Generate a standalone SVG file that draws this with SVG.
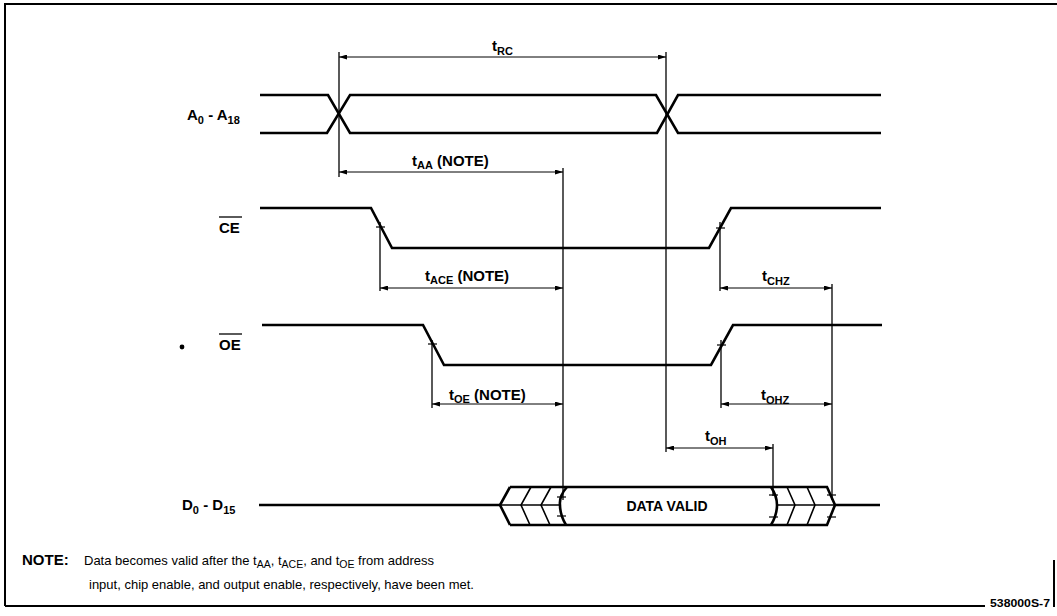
<svg xmlns="http://www.w3.org/2000/svg" width="1057" height="616" viewBox="0 0 1057 616">
<style>
.sig{fill:none;stroke:#000;stroke-width:2.6;stroke-linejoin:miter}
.hat{fill:none;stroke:#000;stroke-width:1.6}
.ext{fill:none;stroke:#000;stroke-width:1.3}
.dim{fill:none;stroke:#000;stroke-width:1;marker-start:url(#ah);marker-end:url(#ah)}
.tk{stroke:#000;stroke-width:1.2}
.frame{fill:none;stroke:#000;stroke-width:2}
text{font-family:"Liberation Sans",Arial,Helvetica,sans-serif;fill:#000}
.lbl{font-size:15px;font-weight:bold}
.sub{font-size:11px}
.nsub{font-size:10.5px}
.note{font-size:13px}
</style>
<defs>
<marker id="ah" viewBox="0 0 8 5" refX="8" refY="2.5" markerWidth="8" markerHeight="5" markerUnits="userSpaceOnUse" orient="auto-start-reverse">
<path d="M0,0 L8,2.5 L0,5 z" fill="#000"/>
</marker>
</defs>
<rect width="1057" height="616" fill="#fff"/>
<g id="frame">
<path class="frame" d="M5,606 L5,4 L1057,4"/>
<path class="frame" d="M5,606 L985,606"/>
<path class="frame" d="M1054,560 L1054,607"/>
</g>
<g id="sig-addr">
<path class="sig" d="M260,95 L328,95 L350,133 L657,133 L678,95 L881,95"/>
<path class="sig" d="M260,133 L327,133 L350,95 L656,95 L678,133 L881,133"/>
<text class="lbl" x="187" y="120">A<tspan class="sub" dy="4">0</tspan><tspan dy="-4"> - A</tspan><tspan class="sub" dy="4">18</tspan></text>
</g>
<g id="sig-ce">
<path class="sig" d="M260,208 L371,208 L392,248 L709,248 L731,208 L881,208"/>
<line x1="219" y1="217" x2="242" y2="217" stroke="#000" stroke-width="1.3"/>
<text class="lbl" x="219" y="233">CE</text>
</g>
<g id="sig-oe">
<path class="sig" d="M262,325 L423,325 L444,365 L711,365 L733,325 L882,325"/>
<circle cx="182" cy="347" r="2.4" fill="#000"/>
<line x1="219" y1="334" x2="242" y2="334" stroke="#000" stroke-width="1.3"/>
<text class="lbl" x="219" y="350">OE</text>
</g>
<g id="sig-data">
<path class="sig" d="M259,505 L500,505"/>
<path class="sig" d="M510,487 L500,505 L510,525"/>
<path class="sig" d="M510,487 L827,487 L835,505 L827,525 L510,525"/>
<path class="sig" d="M835,505 L880,505"/>
<path class="hat" d="M500,505 L560,505"/>
<path class="hat" d="M777,505 L835,505"/>
<path class="hat" d="M531,487 L521,505 L530,525"/>
<path class="hat" d="M551,487 L541,505 L550,525"/>
<path class="sig" d="M567,487 Q559,496 560,505 Q560,515 566,525"/>
<path class="sig" d="M771,487 Q777,496 777,505 Q777,515 771,525"/>
<path class="hat" d="M787,487 L795,505 L787,525"/>
<path class="hat" d="M807,487 L815,505 L807,525"/>
<line class="tk" x1="557" y1="497" x2="566" y2="497"/>
<line class="tk" x1="557" y1="516" x2="566" y2="516"/>
<line class="tk" x1="769" y1="495" x2="778" y2="495"/>
<line class="tk" x1="769" y1="517" x2="778" y2="517"/>
<line class="tk" x1="827" y1="495" x2="836" y2="495"/>
<line class="tk" x1="827" y1="517" x2="836" y2="517"/>
<text class="lbl" x="667" y="511" text-anchor="middle" style="font-size:14px">DATA VALID</text>
<text class="lbl" x="182" y="510">D<tspan class="sub" dy="4">0</tspan><tspan dy="-4"> - D</tspan><tspan class="sub" dy="4">15</tspan></text>
</g>
<g id="connectors">
<line class="ext" x1="339" y1="52" x2="339" y2="177"/>
<line class="ext" x1="666" y1="52" x2="666" y2="452"/>
<line class="ext" x1="563" y1="168" x2="563" y2="500"/>
<line class="ext" x1="380" y1="222" x2="380" y2="291"/>
<line class="ext" x1="720" y1="222" x2="720" y2="291"/>
<line class="ext" x1="432" y1="340" x2="432" y2="408"/>
<line class="ext" x1="721" y1="340" x2="721" y2="408"/>
<line class="ext" x1="832" y1="284" x2="832" y2="500"/>
<line class="ext" x1="773" y1="444" x2="773" y2="496"/>
<line class="tk" x1="376" y1="227" x2="385" y2="227"/>
<line class="tk" x1="716" y1="228" x2="725" y2="228"/>
<line class="tk" x1="428" y1="344" x2="437" y2="344"/>
<line class="tk" x1="717" y1="345" x2="726" y2="345"/>
<line class="dim" x1="339" y1="57" x2="666" y2="57"/>
<line class="dim" x1="339" y1="172" x2="563" y2="172"/>
<line class="dim" x1="380" y1="288" x2="563" y2="288"/>
<line class="dim" x1="720" y1="288" x2="832" y2="288"/>
<line class="dim" x1="432" y1="404" x2="563" y2="404"/>
<line class="dim" x1="721" y1="404" x2="832" y2="404"/>
<line class="dim" x1="666" y1="448" x2="773" y2="448"/>
<text class="lbl" x="492" y="51">t<tspan class="sub" dy="4">RC</tspan></text>
<text class="lbl" x="412" y="166">t<tspan class="sub" dy="3">AA</tspan><tspan dy="-3"> (NOTE)</tspan></text>
<text class="lbl" x="425" y="281">t<tspan class="sub" dy="3">ACE</tspan><tspan dy="-3"> (NOTE)</tspan></text>
<text class="lbl" x="449" y="400">t<tspan class="sub" dy="3">OE</tspan><tspan dy="-3"> (NOTE)</tspan></text>
<text class="lbl" x="762" y="281">t<tspan class="sub" dy="4">CHZ</tspan></text>
<text class="lbl" x="761" y="400">t<tspan class="sub" dy="4">OHZ</tspan></text>
<text class="lbl" x="705" y="441">t<tspan class="sub" dy="4">OH</tspan></text>
</g>
<g id="note">
<text class="note" x="22" y="565"><tspan font-weight="bold" font-size="15">NOTE:</tspan><tspan x="84">Data becomes valid after the t</tspan><tspan class="nsub" dy="3">AA</tspan><tspan dy="-3">, t</tspan><tspan class="nsub" dy="3">ACE</tspan><tspan dy="-3">, and t</tspan><tspan class="nsub" dy="3">OE</tspan><tspan dy="-3"> from address</tspan></text>
<text class="note" x="89" y="589">input, chip enable, and output enable, respectively, have been met.</text>
<text x="990" y="607" font-size="10" font-weight="bold" textLength="60" lengthAdjust="spacingAndGlyphs">538000S-7</text>
</g>
</svg>
